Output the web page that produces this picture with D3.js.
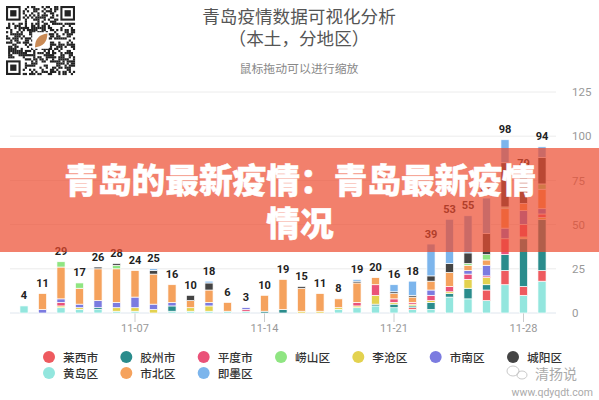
<!DOCTYPE html>
<html>
<head>
<meta charset="utf-8">
<script src="https://cdn.jsdelivr.net/npm/d3@7"></script>
<style>
html, body { margin: 0; padding: 0; background: #fff; }
svg { display: block; }
text { font-family: "Noto Sans CJK SC", "Noto Sans", sans-serif; }
</style>
</head>
<body>
<div id="chart"></div>
<script>
var dates = ['11-01','11-02','11-03','11-04','11-05','11-06','11-07','11-08','11-09','11-10','11-11','11-12','11-13','11-14','11-15','11-16','11-17','11-18','11-19','11-20','11-21','11-22','11-23','11-24','11-25','11-26','11-27','11-28','11-29'];
var xTicks = ['11-07','11-14','11-21','11-28'];
var yTicks = [0, 25, 50, 75, 100, 125];

// stacking order, bottom to top
var huangdao = [4,0,3,2,2,1,1,0,1,1,1,1,1,0,0,0,0,2,3,4,3,2,2,9,8,7,16,10,18];
var laixi    = [0,0,0,0,0,0,0,0,0,0,0,0,0,0,0,0,0,0,0,0,0,1,0,0,0,6,8,5,6];
var jiaozhou = [0,0,0,0,1,0,0,0,3,0,0,0,0,1,2,0,0,0,0,1,2,1,4,2,6,3,9,27,29];
var licang   = [0,0,1,1,0,2,2,2,0,2,3,0,0,0,0,1,1,1,1,5,1,1,1,1,5,4,0,1,1];
var pingdu   = [0,0,2,0,0,0,0,0,0,0,0,0,1,0,0,0,0,0,2,6,2,1,3,3,3,1,9,7,2];
var shinan   = [0,2,2,2,4,3,6,3,2,0,2,0,1,0,0,0,0,0,0,0,0,0,3,0,2,6,6,8,3];
var shibei   = [0,9,18,9,18,19,15,17,10,4,7,5,0,9,17,13,10,5,11,4,3,3,5,8,3,3,11,4,11];
var laoshan  = [0,0,3,3,0,2,0,0,0,0,0,0,0,0,0,0,0,0,0,0,0,0,0,0,1,3,1,0,3];
var chengyang= [0,0,0,0,1,1,0,2,0,3,4,0,0,0,0,1,0,0,1,0,1,1,3,5,6,12,25,17,15];
var jimo     = [0,0,0,0,0,0,0,1,0,0,1,0,0,0,0,0,0,0,1,0,4,8,18,25,21,20,13,0,6];

var seriesNames = ['黄岛区','莱西市','胶州市','李沧区','平度市','市南区','市北区','崂山区','城阳区','即墨区'];
var seriesValues = [huangdao, laixi, jiaozhou, licang, pingdu, shinan, shibei, laoshan, chengyang, jimo];
var seriesColors = ['#93e6de','#ee5a5f','#2a8c8c','#e3d24f','#ea5279','#7b7be0','#f5a25d','#8fe582','#444444','#7cb5ec'];
var legendOrder = ['莱西市','胶州市','平度市','崂山区','李沧区','市南区','城阳区','黄岛区','市北区','即墨区'];

var attrs = {
	width: 599, height: 400,
	gridLeft: 10, gridRight: 556,
	yBottom: 313, yTop: 92
};

var svg = d3.select('#chart').append('svg')
	.attr('width', attrs.width)
	.attr('height', attrs.height);

var color = d3.scaleOrdinal().domain(seriesNames).range(seriesColors);
var x = d3.scaleBand().domain(dates).range([14.75, 551.25]).paddingInner(0.56).paddingOuter(0.28);
var y = d3.scaleLinear().domain([0, 125]).range([attrs.yBottom, attrs.yTop]);

// Title block
function addText(str, tx, ty, size, fill, anchor) {
	return svg.append('text').attr('x', tx).attr('y', ty)
		.attr('font-size', size).attr('fill', fill)
		.attr('text-anchor', anchor || 'middle').text(str);
}
addText('青岛疫情数据可视化分析', 299, 23, 17.6, '#555');
addText('（本土，分地区）', 299, 45, 17.6, '#555');
addText('鼠标拖动可以进行缩放', 299, 73, 11.9, '#888');

// QR code decoration
function drawQr(qx, qy, size, n) {
	var g = svg.append('g').attr('transform', 'translate(' + qx + ',' + qy + ')');
	var m = size / n;
	var seed = 7;
	function finder(r, c) {
		return r < 8 && c < 8 || r < 8 && c >= n - 8 || r >= n - 8 && c < 8;
	}
	for (var r = 0; r < n; r++) {
		for (var c = 0; c < n; c++) {
			seed = (seed * 1103 + 12345 + r * c) % 65536;
			if (!finder(r, c) && seed % 100 < 52) {
				g.append('rect').attr('x', c * m).attr('y', r * m).attr('width', m + 0.1).attr('height', m + 0.1).attr('fill', '#222');
			}
		}
	}
	[[0, 0], [0, n - 7], [n - 7, 0]].forEach(function (p) {
		g.append('rect').attr('x', p[1] * m + m / 2).attr('y', p[0] * m + m / 2).attr('width', 6 * m).attr('height', 6 * m)
			.attr('fill', 'none').attr('stroke', '#222').attr('stroke-width', m);
		g.append('rect').attr('x', (p[1] + 2) * m).attr('y', (p[0] + 2) * m).attr('width', 3 * m).attr('height', 3 * m).attr('fill', '#222');
	});
	g.append('rect').attr('x', size * 0.38).attr('y', size * 0.38).attr('width', size * 0.24).attr('height', size * 0.24).attr('fill', '#fff');
	g.append('path').attr('d', 'M' + size * 0.42 + ',' + size * 0.6 + 'Q' + size * 0.42 + ',' + size * 0.42 + ' ' + size * 0.6 + ',' + size * 0.4 + 'Q' + size * 0.6 + ',' + size * 0.58 + ' ' + size * 0.42 + ',' + size * 0.6 + 'Z')
		.attr('fill', '#c98a55');
}
drawQr(6, 6, 69, 33);

// Grid and axes
svg.append('g').selectAll('line').data(yTicks).join('line')
	.attr('x1', attrs.gridLeft).attr('x2', attrs.gridRight)
	.attr('y1', d => y(d)).attr('y2', d => y(d))
	.attr('stroke', d => d === 0 ? '#dfe6ee' : '#ececec').attr('stroke-width', 1);

var yAxis = svg.append('g').attr('transform', 'translate(572,0)')
	.call(d3.axisRight(y).tickValues(yTicks).tickSize(0).tickPadding(0));
yAxis.select('.domain').remove();
yAxis.selectAll('text').attr('font-size', 11.5).attr('fill', '#999').style('font-family', 'Roboto, sans-serif');

var xAxis = svg.append('g').attr('transform', 'translate(0,' + attrs.yBottom + ')')
	.call(d3.axisBottom(x).tickValues(xTicks).tickSize(9).tickPadding(2));
xAxis.select('.domain').remove();
xAxis.selectAll('line').attr('stroke', '#ccc');
xAxis.selectAll('text').attr('font-size', 11).attr('fill', '#999').style('font-family', 'Roboto, sans-serif');

// Stacked bars
var table = dates.map(function (d, i) {
	var row = { date: d };
	seriesNames.forEach(function (name, k) { row[name] = seriesValues[k][i]; });
	return row;
});
var stacked = d3.stack().keys(seriesNames)(table);

svg.append('g').selectAll('g').data(stacked).join('g')
	.attr('fill', d => color(d.key))
	.selectAll('rect').data(d => d.filter(s => s[1] > s[0])).join('rect')
	.attr('x', d => x(d.data.date))
	.attr('width', x.bandwidth())
	.attr('y', d => y(d[1]))
	.attr('height', d => y(d[0]) - y(d[1]))
	.attr('stroke', '#fff').attr('stroke-width', 0.7);

// Totals
svg.append('g').selectAll('text').data(table).join('text')
	.attr('x', d => x(d.date) + x.bandwidth() / 2)
	.attr('y', d => y(d3.sum(seriesNames, n => d[n])) - 6.5)
	.attr('text-anchor', 'middle')
	.attr('font-size', 11).attr('font-weight', 'bold').attr('fill', '#222')
	.style('font-family', 'Roboto, sans-serif')
	.text(d => d3.sum(seriesNames, n => d[n]));

// Legend
var legendX = d3.scalePoint().domain(d3.range(7)).range([49, 513]);
var legend = svg.append('g').selectAll('g').data(legendOrder).join('g')
	.attr('transform', (d, i) => 'translate(' + legendX(i % 7) + ',' + (i < 7 ? 357 : 373) + ')');
legend.append('circle').attr('r', 6).attr('fill', d => color(d));
legend.append('text').attr('x', 14).attr('y', 4.5)
	.attr('font-size', 11.7).attr('font-weight', 500).attr('fill', '#333').text(d => d);

// Banner over the chart
svg.append('rect').attr('x', 0).attr('y', 148).attr('width', attrs.width).attr('height', 104)
	.attr('fill', 'rgb(236,74,46)').attr('fill-opacity', 0.7);
['青岛的最新疫情：青岛最新疫情', '情况'].forEach(function (line, i) {
	addText(line, 300, 193 + i * 43, 33.7, '#fff')
		.attr('font-weight', 900).attr('stroke', '#fff').attr('stroke-width', 0.5);
});

// Watermark
var mark = svg.append('g').attr('fill', 'none').attr('stroke', '#bbb').attr('stroke-width', 0.8);
mark.append('ellipse').attr('cx', 513).attr('cy', 371).attr('rx', 6).attr('ry', 5);
mark.append('ellipse').attr('cx', 522).attr('cy', 375).attr('rx', 5).attr('ry', 4);
addText('清扬说', 535, 379, 14, '#aaa', 'start');
addText('www.qdyqdt.com', 593, 396, 10.5, '#aaa', 'end').style('font-family', 'Roboto, sans-serif');
</script>
</body>
</html>
